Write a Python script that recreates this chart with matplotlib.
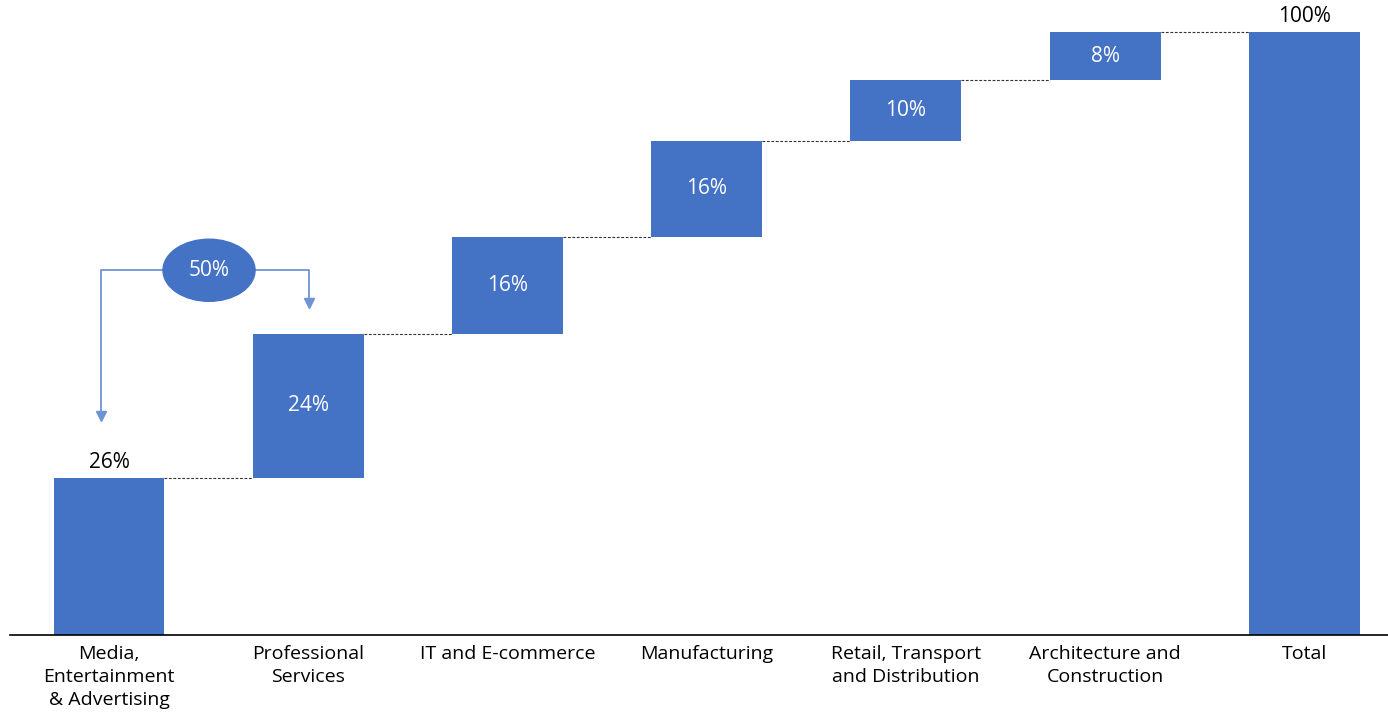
import matplotlib
matplotlib.use("Agg")
import matplotlib.pyplot as plt
from matplotlib.patches import Ellipse

categories = ["Media,\nEntertainment\n& Advertising", "Professional\nServices",
              "IT and E-commerce", "Manufacturing", "Retail, Transport\nand Distribution",
              "Architecture and\nConstruction", "Total"]
values = [26, 24, 16, 16, 10, 8]
total = 100
combined_label = "50%"

plt.rcParams['font.family'] = ['Open Sans', 'DejaVu Sans']
blue = "#4472C4"
arrow_blue = "#6F93D3"

fig = plt.figure(figsize=(13.88, 7.14), dpi=100)
ax = fig.add_axes([10/1388, 79/714, 1 - 10/1388, 633/714])

bottoms = []
cum = 0
for v in values:
    bottoms.append(cum)
    cum += v
heights = values + [total]
bottoms = bottoms + [0]
x = list(range(len(categories)))
w = 0.557
ax.bar(x, heights, bottom=bottoms, width=w, color=blue, zorder=2)

# connectors
for i in range(len(values)):
    level = bottoms[i] + heights[i]
    ax.plot([x[i] + w/2, x[i+1] - w/2], [level, level], ls=(0, (2.5, 1.5)),
            color="#333333", lw=0.8, zorder=1)

vfs = 15
# labels
for i, v in enumerate(values):
    if i == 0:
        ax.text(x[i], bottoms[i] + v + 0.9, f"{v}%", ha="center", va="bottom",
                fontsize=vfs, color="black")
    else:
        ax.text(x[i], bottoms[i] + v/2, f"{v}%", ha="center", va="center",
                fontsize=vfs, color="white", fontweight="medium")
ax.text(x[-1], total + 0.9, f"{total}%", ha="center", va="bottom", fontsize=vfs, color="black")

# combined annotation
ex, ey = 0.502, 60.5
ax.add_patch(Ellipse((ex, ey), 0.462, 10.3, color=blue, zorder=3))
ax.text(ex, ey, combined_label, ha="center", va="center", fontsize=vfs, color="white",
        fontweight="medium", zorder=4)
lx, rx = -0.04, 1.004
ax.plot([ex - 0.231, lx, lx], [ey, ey, 36.6], color=arrow_blue, lw=1.3, zorder=2)
ax.plot([lx], [36.3], marker="v", color=arrow_blue, markersize=7, zorder=2)
ax.plot([ex + 0.231, rx, rx], [ey, ey, 55.3], color=arrow_blue, lw=1.3, zorder=2)
ax.plot([rx], [55.0], marker="v", color=arrow_blue, markersize=7, zorder=2)

ax.set_xlim(-0.497, 6.42)
ax.set_ylim(0, 105)
ax.set_xticks(x)
ax.set_xticklabels(categories, fontsize=14, linespacing=1.35)
ax.tick_params(axis="x", length=0, pad=7)
ax.set_yticks([])
for s in ["top", "right", "left"]:
    ax.spines[s].set_visible(False)
ax.spines["bottom"].set_linewidth(1.2)
ax.spines["bottom"].set_color("black")

fig.savefig("out.png", dpi=100)
